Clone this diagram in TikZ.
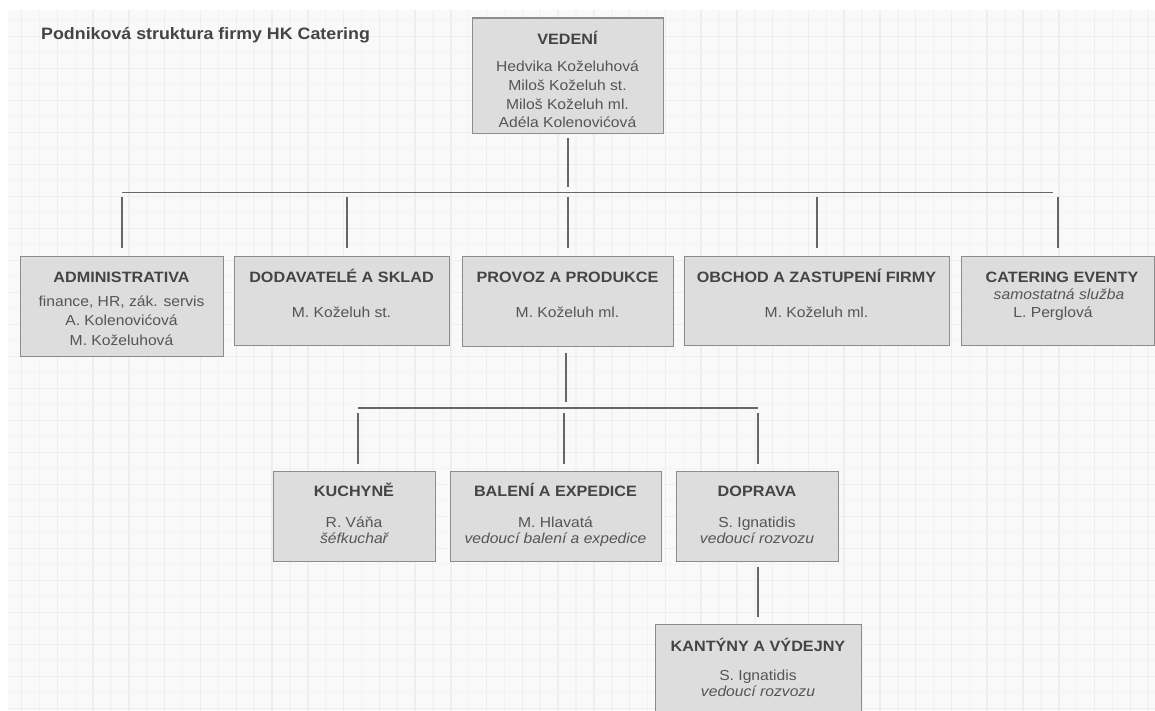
\documentclass[tikz,border=0pt]{standalone}
\usepackage{fontspec}
\setmainfont[FakeStretch=1.08]{Liberation Sans}
\usetikzlibrary{calc}

\definecolor{pagebg}{HTML}{F9F9F9}
\definecolor{gridminor}{HTML}{F3F3F3}
\definecolor{gridmajor}{HTML}{EEEEEE}
\definecolor{boxfill}{HTML}{DDDDDD}
\definecolor{boxline}{HTML}{8C8C8C}
\definecolor{connline}{HTML}{666666}
\definecolor{hdcol}{HTML}{444444}
\definecolor{txcol}{HTML}{555555}

\tikzset{
  orgbox/.style={draw=boxline, fill=boxfill, line width=1.4pt, inner sep=0pt, anchor=north west},
  conn/.style={draw=connline, line width=1.8pt},
  hd/.style={anchor=base, inner sep=0pt, text=hdcol, font=\fontsize{15}{18}\selectfont\bfseries},
  tx/.style={anchor=base, inner sep=0pt, text=txcol, font=\fontsize{14.5}{18}\selectfont},
  itx/.style={anchor=base, inner sep=0pt, text=txcol, font=\fontsize{14.5}{18}\selectfont\itshape},
}

\begin{document}
\begin{tikzpicture}[x=1pt, y=-1pt]
\useasboundingbox (0,0) rectangle (1155,711);
\clip (0,0) rectangle (1155,711);

% squared paper background
\fill[white] (0,0) rectangle (1155,711);
\fill[pagebg] (7.5,10.5) rectangle (1155,711);
\foreach \i in {0,...,64} {
  \pgfmathtruncatemacro{\ev}{mod(\i,2)}
  \ifnum\ev=0 \def\gc{gridmajor}\else \def\gc{gridminor}\fi
  \draw[\gc, line width=1.5pt] (21.7+\i*17.88, 10.5) -- (21.7+\i*17.88, 711);
}
\foreach \j in {0,...,43} {
  \pgfmathtruncatemacro{\ev}{mod(\j,2)}
  \ifnum\ev=1 \def\gc{gridmajor}\else \def\gc{gridminor}\fi
  \draw[\gc, line width=1.5pt] (7.5, 20.7+\j*16) -- (1155, 20.7+\j*16);
}

% title
\node[anchor=base west, inner sep=0pt, text=hdcol, font=\fontsize{16.5}{20}\selectfont\bfseries] (title) at (41,39.3) {Podniková struktura firmy HK Catering};

% boxes
\node[orgbox, minimum width=191pt, minimum height=115.5pt] (ved) at (472,17.5) {};
\node[orgbox, minimum width=203pt, minimum height=100pt] (adm) at (20,256) {};
\node[orgbox, minimum width=215pt, minimum height=89pt] (dod) at (234,256) {};
\node[orgbox, minimum width=211pt, minimum height=90pt] (pro) at (462,256) {};
\node[orgbox, minimum width=265pt, minimum height=89pt] (obc) at (684,256) {};
\node[orgbox, minimum width=193pt, minimum height=89pt] (cat) at (961,256) {};
\node[orgbox, minimum width=162pt, minimum height=90pt] (kuc) at (273,471) {};
\node[orgbox, minimum width=211pt, minimum height=90pt] (bal) at (450,471) {};
\node[orgbox, minimum width=162pt, minimum height=90pt] (dop) at (676,471) {};
\node[orgbox, minimum width=206pt, minimum height=100pt] (kan) at (655,624) {};

% bus lines
\coordinate (bus1) at (0,192.5);
\coordinate (bus2) at (0,408);

% management to departments
\draw[conn, shorten <=4pt, shorten >=5.5pt] ([xshift=-0.5pt]ved.south) -- ([xshift=-0.5pt]ved.south |- bus1);
\draw[conn, shorten >=5.5pt] (adm.north |- bus1) -- (cat.north |- bus1);
\draw[conn, shorten <=4.5pt, shorten >=8pt] (adm.north |- bus1) -- (adm.north);
\draw[conn, shorten <=4.5pt, shorten >=8pt] ([xshift=4.5pt]dod.north |- bus1) -- ([xshift=4.5pt]dod.north);
\draw[conn, shorten <=4.5pt, shorten >=8pt] ([xshift=-0.5pt]pro.north |- bus1) -- ([xshift=-0.5pt]pro.north);
\draw[conn, shorten <=4.5pt, shorten >=8pt] (obc.north |- bus1) -- (obc.north);
\draw[conn, shorten <=4.5pt, shorten >=8pt] (cat.north |- bus1) -- (cat.north);

% production to its units
\draw[conn, shorten <=6pt, shorten >=6pt] ([xshift=-2.5pt]pro.south) -- ([xshift=-2.5pt]pro.south |- bus2);
\draw[conn] ([xshift=3pt]kuc.north |- bus2) -- (dop.north |- bus2);
\draw[conn, shorten <=5pt, shorten >=7pt] ([xshift=3pt]kuc.north |- bus2) -- ([xshift=3pt]kuc.north);
\draw[conn, shorten <=5pt, shorten >=7pt] ([xshift=7.5pt]bal.north |- bus2) -- ([xshift=7.5pt]bal.north);
\draw[conn, shorten <=5pt, shorten >=7pt] (dop.north |- bus2) -- (dop.north);

% transport to canteens
\draw[conn, shorten <=5pt, shorten >=7pt] (dop.south) -- (dop.south |- kan.north);

% box texts
\node[hd] (vedH) at (567.5,45) {VEDENÍ};
\node[tx] (vedA) at (567.5,71.7) {Hedvika Koželuhová};
\node[tx] (vedB) at (567.5,91) {Miloš Koželuh st.};
\node[tx] (vedC) at (567.5,109.5) {Miloš Koželuh ml.};
\node[tx] (vedD) at (567.5,127.7) {Adéla Kolenovićová};

\node[hd] (admH) at (121.5,282.7) {ADMINISTRATIVA};
\node[tx] (admA) at (121.5,306) {finance, HR, zák. servis};
\node[tx] (admB) at (121.5,325.3) {A. Kolenovićová};
\node[tx] (admC) at (121.5,345) {M. Koželuhová};

\node[hd] (dodH) at (341.5,282.7) {DODAVATELÉ A SKLAD};
\node[tx] (dodA) at (341.5,317.5) {M. Koželuh st.};

\node[hd] (proH) at (567.5,282.7) {PROVOZ A PRODUKCE};
\node[tx] (proA) at (567.5,317.3) {M. Koželuh ml.};

\node[hd] (obcH) at (816.5,282.7) {OBCHOD A ZASTUPENÍ FIRMY};
\node[tx] (obcA) at (816.5,317.3) {M. Koželuh ml.};

\node[hd] (catH) at (1062,282.7) {CATERING EVENTY};
\node[itx] (catA) at (1059,299.3) {samostatná služba};
\node[tx] (catB) at (1053,317.7) {L. Perglová};

\node[hd] (kucH) at (354,496.7) {KUCHYNĚ};
\node[tx] (kucA) at (354,527.7) {R. Váňa};
\node[itx] (kucB) at (354,543.3) {šéfkuchař};

\node[hd] (balH) at (555.5,496.7) {BALENÍ A EXPEDICE};
\node[tx] (balA) at (555.5,527.7) {M. Hlavatá};
\node[itx] (balB) at (555.5,543.3) {vedoucí balení a expedice};

\node[hd] (dopH) at (757,496.7) {DOPRAVA};
\node[tx] (dopA) at (757,527.7) {S. Ignatidis};
\node[itx] (dopB) at (757,543.3) {vedoucí rozvozu};

\node[hd] (kanH) at (758,651.7) {KANTÝNY A VÝDEJNY};
\node[tx] (kanA) at (758,680.7) {S. Ignatidis};
\node[itx] (kanB) at (758,696.7) {vedoucí rozvozu};
\end{tikzpicture}
\end{document}
